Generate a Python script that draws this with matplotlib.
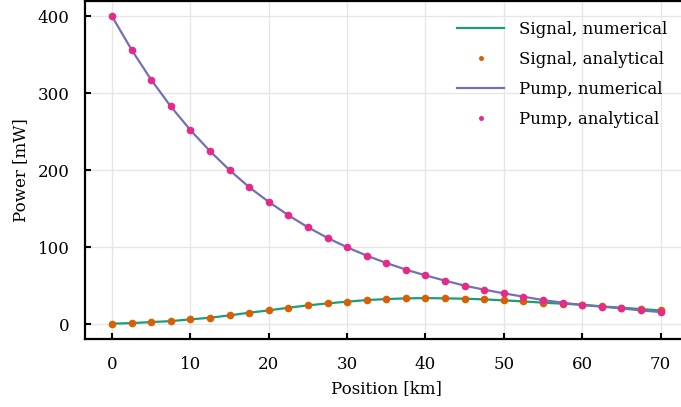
import matplotlib
matplotlib.use("Agg")
import matplotlib.pyplot as plt

# position along the fibre [km]
position = [0, 2.5, 5, 7.5, 10, 12.5, 15, 17.5, 20, 22.5, 25, 27.5, 30, 32.5,
            35, 37.5, 40, 42.5, 45, 47.5, 50, 52.5, 55, 57.5, 60, 62.5, 65,
            67.5, 70]

# power [mW]
signal_power = [1.0, 1.7, 3.0, 4.3, 6.5, 8.7, 11.7, 15.2, 18.2, 21.7, 24.7,
                27.3, 29.5, 31.6, 32.9, 33.8, 34.2, 33.8, 33.4, 32.5, 31.2,
                29.9, 28.2, 26.9, 25.6, 23.4, 21.7, 19.9, 18.2]
pump_power = [400.0, 356.6, 317.6, 283.0, 252.3, 225.0, 200.3, 178.2, 159.1,
              141.7, 126.1, 112.3, 100.1, 89.3, 79.8, 71.1, 63.7, 56.8, 50.3,
              45.1, 40.3, 36.0, 31.6, 28.2, 25.1, 23.0, 20.8, 18.2, 16.0]

colors = ["#1b9e77", "#d95f02", "#7570b3", "#e7298a"]

plt.rcParams["font.family"] = ["DejaVu Serif"]
plt.rcParams["font.size"] = 12

fig = plt.figure(figsize=(6.81, 4.07), dpi=100)
ax = fig.add_axes([84.6 / 681, 68 / 407, (688 - 84.6) / 681, 338 / 407])

# numerical solution (solid) and analytical solution (dots)
ax.plot(position, signal_power, color=colors[0], lw=1.6,
        label="Signal, numerical", zorder=2)
ax.plot(position, signal_power, "o", color=colors[1], ms=5.5, mew=0,
        label="Signal, analytical", zorder=3)
ax.plot(position, pump_power, color=colors[2], lw=1.6,
        label="Pump, numerical", zorder=2)
ax.plot(position, pump_power, "o", color=colors[3], ms=5.5, mew=0,
        label="Pump, analytical", zorder=3)

ax.set_xticks([0, 10, 20, 30, 40, 50, 60, 70])
ax.set_yticks([0, 100, 200, 300, 400])
ax.grid(True, color="#e6e6e6", lw=1.0, zorder=0)
ax.set_axisbelow(True)
ax.tick_params(direction="in", length=4, width=1.5)
ax.tick_params(axis="x", pad=12)
ax.tick_params(axis="y", pad=11)
for sp in ax.spines.values():
    sp.set_linewidth(1.6)

ax.set_xlabel("Position [km]", labelpad=5)
ax.set_ylabel("Power [mW]", labelpad=6)

ax.legend(loc="upper right", bbox_to_anchor=(0.985, 0.975), frameon=False,
          handlelength=2.8, handletextpad=0.9, labelspacing=0.78,
          markerscale=0.65, borderaxespad=0.3)

fig.savefig("out.png", dpi=100)
